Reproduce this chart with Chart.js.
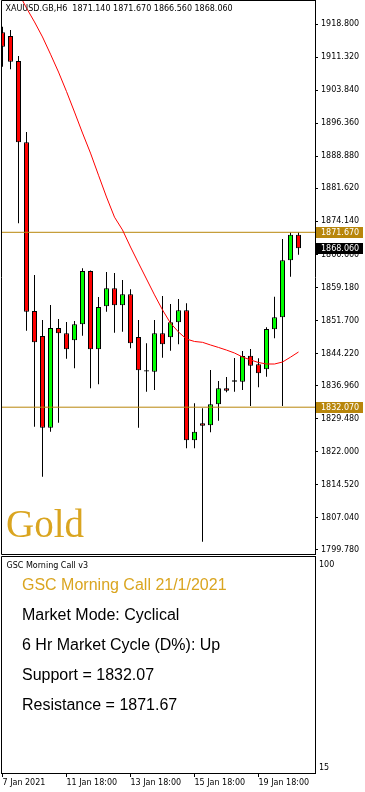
<!DOCTYPE html>
<html>
<head>
<meta charset="utf-8">
<script src="https://cdn.jsdelivr.net/npm/chart.js@4.4.1/dist/chart.umd.min.js"></script>
<style>
html, body { margin: 0; padding: 0; background: #fff; }
#wrap { position: relative; width: 365px; height: 792px; }
canvas { position: absolute; left: 0; display: block; }
#main { top: 0; }
#sub { top: 556px; }
</style>
</head>
<body>
<div id="wrap">
  <canvas id="main" width="365" height="556"></canvas>
  <canvas id="sub" width="365" height="236"></canvas>
</div>
<script>
// XAUUSD H6 bars, 7 Jan - 21 Jan 2021
const opens  = [1916.95, 1916.12, 1910.46, 1892.05, 1853.85, 1848.19, 1827.43, 1850.00, 1848.80, 1847.22,
                1850.84, 1862.91, 1845.18, 1854.92, 1858.99, 1855.14, 1857.63, 1847.96, 1840.45, 1840.11,
                1848.80, 1847.90, 1851.29, 1854.01, 1824.57, 1828.42, 1827.97, 1832.73, 1836.35, 1838.15,
                1837.84, 1843.73, 1841.78, 1840.65, 1849.71, 1852.42, 1865.33, 1871.14];
const highs  = [1918.22, 1917.47, 1911.59, 1894.38, 1862.00, 1851.81, 1855.21, 1852.04, 1851.36, 1851.59,
                1863.52, 1863.00, 1857.02, 1862.68, 1862.45, 1860.87, 1858.76, 1851.81, 1846.54, 1851.81,
                1857.25, 1855.44, 1856.57, 1855.59, 1832.95, 1831.82, 1840.49, 1838.00, 1838.91, 1843.21,
                1844.79, 1845.25, 1843.14, 1850.16, 1857.09, 1870.15, 1871.60, 1871.67];
const lows   = [1909.17, 1908.58, 1873.71, 1849.39, 1827.65, 1816.33, 1826.52, 1828.56, 1843.05, 1840.88,
                1848.26, 1836.35, 1837.25, 1853.69, 1848.94, 1849.16, 1845.41, 1827.43, 1835.58, 1835.96,
                1843.28, 1844.86, 1846.31, 1822.76, 1822.76, 1801.62, 1826.39, 1829.01, 1835.44, 1835.58,
                1835.96, 1832.34, 1836.57, 1838.97, 1847.67, 1832.34, 1861.62, 1866.56];
const closes = [1913.69, 1910.30, 1892.05, 1853.69, 1846.76, 1827.43, 1850.00, 1848.80, 1845.18, 1850.84,
                1862.91, 1845.18, 1854.76, 1858.99, 1855.14, 1857.63, 1846.54, 1840.42, 1840.15, 1848.80,
                1846.31, 1851.29, 1854.01, 1824.57, 1826.52, 1827.88, 1832.73, 1836.35, 1835.80, 1837.85,
                1843.66, 1841.47, 1839.74, 1849.78, 1852.42, 1865.33, 1871.13, 1868.06];
// red moving average
const maValues = [1931.7, 1928.6, 1925.9, 1922.45, 1919.3, 1915.9, 1912.0, 1907.96, 1903.55, 1898.9,
                  1894.15, 1889.6, 1884.6, 1879.66, 1875.1, 1872.2, 1868.34, 1864.7, 1861.1, 1857.5,
                  1854.1, 1851.1, 1849.1, 1847.5, 1846.95, 1846.76, 1846.16, 1845.6, 1845.0, 1844.34,
                  1843.45, 1842.77, 1842.19, 1841.85, 1841.85, 1842.3, 1843.4, 1844.57];

const resistance = 1871.67;
const support = 1832.07;
const lastPrice = 1868.06;

const priceTicks = [1918.80, 1911.32, 1903.84, 1896.36, 1888.88, 1881.62, 1874.14, 1866.66, 1859.18,
                    1851.70, 1844.22, 1836.96, 1829.48, 1822.00, 1814.52, 1807.04, 1799.78];
const dateTickBars = [0, 8, 16, 24, 32];
const dateLabels = ['7 Jan 2021', '11 Jan 18:00', '13 Jan 18:00', '15 Jan 18:00', '19 Jan 18:00'];

const subTicks = [15, 100];
const callLines = ['Market Mode: Cyclical', '6 Hr Market Cycle (D%): Up',
                   'Support = 1832.07', 'Resistance = 1871.67'];

const xMin = -0.1875, xMax = 39.0625;   // 8px per bar over the 314px pane
const yMin = 1798.83, yMax = 1924.27;
const smallFont = { family: 'DejaVu Sans', size: 8 };
const GOLD = '#B8860B';

const idx = opens.map((_, i) => i);
const wickData = idx.map(i => ({ x: i, y: [lows[i], highs[i]] }));
const bodyData = idx.map(i => ({ x: i, y: [opens[i], closes[i]] }));
const bodyColors = idx.map(i => closes[i] >= opens[i] ? '#00FF00' : '#FF0000');
const maData = idx.map(i => ({ x: i, y: maValues[i] }));
const hline = v => [{ x: xMin, y: v }, { x: xMax, y: v }];

// no label overhang padding, fixed axis size
const fixY = s => { s.width = 50; s.paddingTop = 0; s.paddingBottom = 0; };
const fixX = s => { s.height = 19; s.paddingLeft = 0; s.paddingRight = 0; };

// frame, title, "Gold" and price boxes on the main pane
const mainDeco = {
  id: 'mainDeco',
  afterDraw(chart) {
    const ctx = chart.ctx;
    const ys = chart.scales.y;
    ctx.save();
    ctx.strokeStyle = '#000';
    ctx.lineWidth = 1;
    ctx.beginPath();
    ctx.moveTo(315.5, 0.5); ctx.lineTo(1.5, 0.5); ctx.lineTo(1.5, 554.5); ctx.lineTo(315.5, 554.5);
    ctx.stroke();

    ctx.font = '8px "DejaVu Sans"';
    ctx.fillStyle = '#000';
    ctx.textBaseline = 'middle';
    ctx.fillText('XAUUSD.GB,H6  1871.140 1871.670 1866.560 1868.060', 5.5, 8.5);

    ctx.font = '39px "Liberation Serif"';
    ctx.fillStyle = '#DAA520';
    ctx.textBaseline = 'alphabetic';
    ctx.fillText('Gold', 6, 537);

    const boxes = [[resistance, GOLD], [lastPrice, '#000'], [support, GOLD]];
    ctx.font = '8px "DejaVu Sans"';
    ctx.textBaseline = 'middle';
    boxes.forEach(([v, bg]) => {
      const y = ys.getPixelForValue(v);
      ctx.fillStyle = bg;
      ctx.fillRect(316, Math.round(y - 5.5), 47, 11);
      ctx.fillStyle = '#fff';
      ctx.fillText(v.toFixed(3), 321, y + 0.5);
    });
    ctx.restore();
  }
};

new Chart(document.getElementById('main'), {
  type: 'bar',
  data: {
    datasets: [
      { type: 'bar', data: wickData, backgroundColor: '#000', borderWidth: 0,
        barThickness: 1, grouped: false, inflateAmount: 0, order: 4 },
      { type: 'bar', data: bodyData, backgroundColor: bodyColors, borderColor: '#000', borderWidth: 1,
        borderSkipped: false, barThickness: 5, grouped: false, inflateAmount: 0, order: 3 },
      { type: 'line', data: hline(resistance), borderColor: GOLD, borderWidth: 1, pointRadius: 0, order: 2 },
      { type: 'line', data: hline(support), borderColor: GOLD, borderWidth: 1, pointRadius: 0, order: 2 },
      { type: 'line', data: maData, borderColor: '#FF0000', borderWidth: 1, pointRadius: 0, tension: 0, order: 1 }
    ]
  },
  options: {
    responsive: false,
    animation: false,
    devicePixelRatio: 1,
    layout: { padding: { left: 1, right: 0, top: 0, bottom: 2 } },
    plugins: { legend: { display: false }, tooltip: { enabled: false } },
    scales: {
      x: { type: 'linear', min: xMin, max: xMax, offset: false, display: false, grid: { offset: false } },
      y: {
        type: 'linear', position: 'right', min: yMin, max: yMax,
        afterFit: fixY,
        afterBuildTicks: s => { s.ticks = priceTicks.map(v => ({ value: v })); },
        ticks: { callback: v => Number(v).toFixed(3), font: smallFont, color: '#000', padding: 3, autoSkip: false },
        grid: { drawOnChartArea: false, tickLength: 3, color: '#000' },
        border: { color: '#000', width: 1 }
      }
    }
  },
  plugins: [mainDeco]
});

// indicator sub window with the morning call text
const subDeco = {
  id: 'subDeco',
  afterDraw(chart) {
    const ctx = chart.ctx;
    ctx.save();
    ctx.strokeStyle = '#000';
    ctx.lineWidth = 1;
    ctx.beginPath();
    ctx.moveTo(315.5, 0.5); ctx.lineTo(1.5, 0.5); ctx.lineTo(1.5, 217.5);
    ctx.stroke();

    ctx.textBaseline = 'middle';
    ctx.font = '8px "DejaVu Sans"';
    ctx.fillStyle = '#000';
    ctx.fillText('GSC Morning Call v3', 6.5, 9.5);

    ctx.font = '16px "Liberation Sans"';
    ctx.fillStyle = '#DAA520';
    ctx.fillText('GSC Morning Call 21/1/2021', 22, 30);
    ctx.fillStyle = '#000';
    callLines.forEach((t, i) => ctx.fillText(t, 22, 60 + i * 30));
    ctx.restore();
  }
};

new Chart(document.getElementById('sub'), {
  type: 'line',
  data: { datasets: [] },
  options: {
    responsive: false,
    animation: false,
    devicePixelRatio: 1,
    layout: { padding: { left: 1, right: 0, top: 0, bottom: 0 } },
    plugins: { legend: { display: false }, tooltip: { enabled: false } },
    scales: {
      x: {
        type: 'linear', position: 'bottom', min: xMin, max: xMax, offset: false,
        afterFit: fixX,
        afterBuildTicks: s => { s.ticks = dateTickBars.map(v => ({ value: v })); },
        ticks: {
          callback: v => dateLabels[dateTickBars.indexOf(v)],
          align: 'start', maxRotation: 0, minRotation: 0, autoSkip: false,
          padding: 1, font: smallFont, color: '#000'
        },
        grid: { drawOnChartArea: false, tickLength: 4, color: '#000', offset: false },
        border: { color: '#000', width: 1 }
      },
      y: {
        type: 'linear', position: 'right', min: 12.9, max: 103.75,
        afterFit: fixY,
        afterBuildTicks: s => { s.ticks = subTicks.map(v => ({ value: v })); },
        ticks: { callback: v => String(v), padding: 4, font: smallFont, color: '#000', autoSkip: false },
        grid: { drawOnChartArea: false, drawTicks: false },
        border: { color: '#000', width: 1 }
      }
    }
  },
  plugins: [subDeco]
});
</script>
</body>
</html>
